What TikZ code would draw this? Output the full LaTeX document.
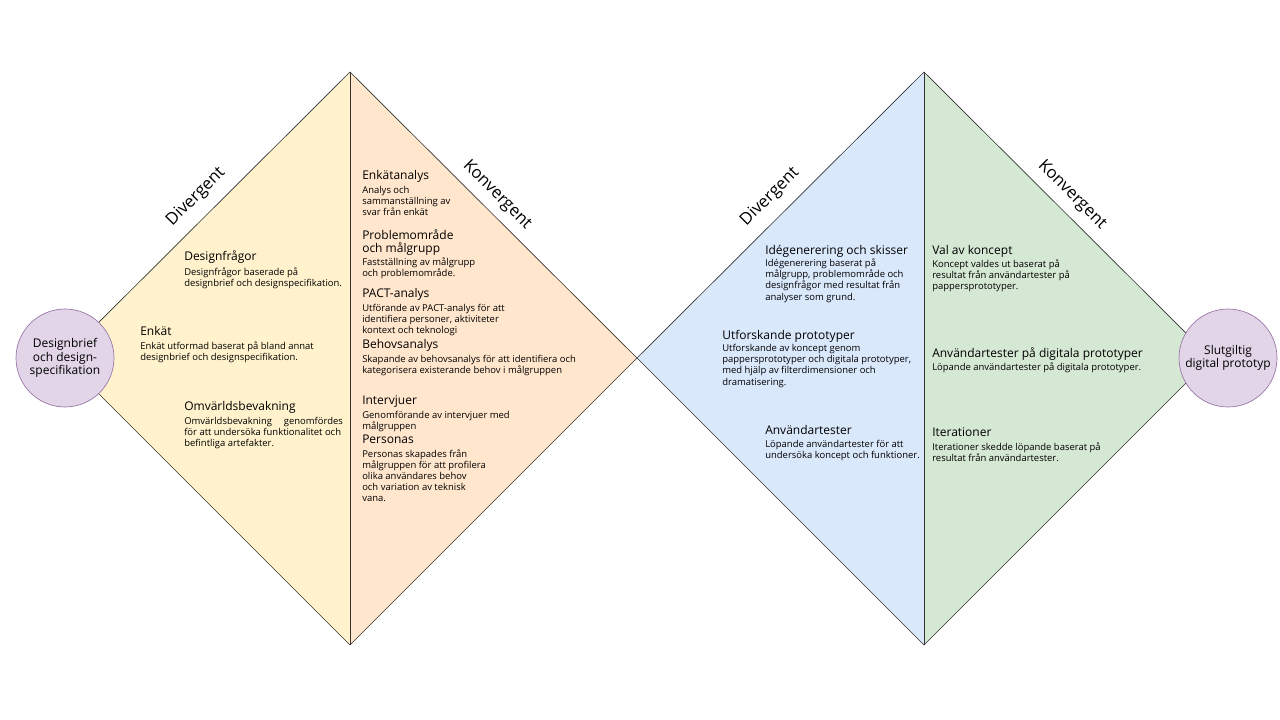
\documentclass[tikz,border=0pt]{standalone}
\usepackage{fontspec}
\setmainfont{Open Sans}
\usetikzlibrary{positioning}

\definecolor{diverga}{HTML}{FFF2CC}
\definecolor{konverga}{HTML}{FFE6CC}
\definecolor{divergb}{HTML}{DAE8FC}
\definecolor{konvergb}{HTML}{D5E8D4}
\definecolor{startfill}{HTML}{E1D5E7}
\definecolor{startline}{HTML}{9673A6}

\newcommand{\hd}[1]{{\fontsize{9}{11}\selectfont #1}}

\tikzset{
	half/.style={draw=black!80, line width=.5pt},
	phase/.style={font=\fontsize{12.5}{14}\selectfont, inner sep=0pt},
	blk/.style={anchor=north west, inner sep=0pt, align=left, font=\fontsize{7.1}{8.3}\selectfont},
	endpoint/.style={circle, draw=startline, fill=startfill, line width=.5pt, minimum size=73.5pt, inner sep=0pt, align=center, font=\fontsize{9}{10}\selectfont}
}

\begin{document}
\begin{tikzpicture}[x=.75pt, y=-.75pt]
	\useasboundingbox (0,0) rectangle (1280,720);

	% corners of the double diamond
	\coordinate (ltip) at (63,358);
	\coordinate (ltop) at (350,72);
	\coordinate (lbot) at (350,645);
	\coordinate (mid)  at (637,358);
	\coordinate (rtop) at (924,72);
	\coordinate (rbot) at (924,645);
	\coordinate (rtip) at (1211,358);

	% first diamond
	\begin{scope}
		\fill[diverga] (ltip) -- (ltop) -- (lbot) -- cycle;
		\fill[konverga] (ltop) -- (mid) -- (lbot) -- cycle;
		\draw[half] (ltip) -- (ltop) -- (mid) -- (lbot) -- cycle;
		\draw[half] (ltop) -- (lbot);
		\node[phase, rotate=45] (div1) at (196,197) {Divergent};
		\node[phase, rotate=-45] (konv1) at (497,195) {Konvergent};
	\end{scope}

	% second diamond
	\begin{scope}
		\fill[divergb] (mid) -- (rtop) -- (rbot) -- cycle;
		\fill[konvergb] (rtop) -- (rtip) -- (rbot) -- cycle;
		\draw[half] (mid) -- (rtop) -- (rtip) -- (rbot) -- cycle;
		\draw[half] (rtop) -- (rbot);
		\node[phase, rotate=45] (div2) at (770,197) {Divergent};
		\node[phase, rotate=-45] (konv2) at (1072,195) {Konvergent};
	\end{scope}

	% start and end
	\node[endpoint] (brief) at (65,358) {Designbrief\\och design-\\specifikation};
	\node[endpoint] (proto) at (1228,358) {Slutgiltig\\digital prototyp};

	% divergent 1
	\node[blk] (designfragor) at (184,250) {\hd{Designfrågor}\\[3pt]
		Designfrågor baserade på\\
		designbrief och designspecifikation.};
	\node[blk] (enkat) at (140,326) {\hd{Enkät}\\[2pt]
		Enkät utformad baserat på bland annat\\
		designbrief och designspecifikation.};
	\node[blk] (omvarld) at (184,401) {\hd{Omvärldsbevakning}\\[2pt]
		\hbox to 119pt{Omvärldsbevakning\hfill genomfördes}\\
		för att undersöka funktionalitet och\\
		befintliga artefakter.};

	% konvergent 1
	\node[blk] (enkatanalys) at (362,170) {\hd{Enkätanalys}\\[2.5pt]
		Analys och\\
		sammanställning av\\
		svar från enkät};
	\node[blk] (problem) at (362,229) {\hd{Problemområde}\\[1.5pt]
		\hd{och målgrupp}\\[2pt]
		Fastställning av målgrupp\\
		och problemområde.};
	\node[blk] (pact) at (362,288) {\hd{PACT-analys}\\[2pt]
		Utförande av PACT-analys för att\\
		identifiera personer, aktiviteter\\
		kontext och teknologi};
	\node[blk] (behov) at (362,339) {\hd{Behovsanalys}\\[2pt]
		Skapande av behovsanalys för att identifiera och\\
		kategorisera existerande behov i målgruppen};
	\node[blk] (intervjuer) at (362,395) {\hd{Intervjuer}\\[2.5pt]
		Genomförande av intervjuer med\\
		målgruppen};
	\node[blk] (personas) at (362,435) {\hd{Personas}\\[2pt]
		Personas skapades från\\
		målgruppen för att profilera\\
		olika användares behov\\
		och variation av teknisk\\
		vana.};

	% divergent 2
	\node[blk] (ide) at (765,245) {\hd{Idégenerering och skisser}\\[1pt]
		Idégenerering baserat på\\
		målgrupp, problemområde och\\
		designfrågor med resultat från\\
		analyser som grund.};
	\node[blk] (utforsk) at (722,330) {\hd{Utforskande prototyper}\\[1pt]
		Utforskande av koncept genom\\
		pappersprototyper och digitala prototyper,\\
		med hjälp av filterdimensioner och\\
		dramatisering.};
	\node[blk] (anvtest) at (765,425) {\hd{Användartester}\\[1.5pt]
		Löpande användartester för att\\
		undersöka koncept och funktioner.};

	% konvergent 2
	\node[blk] (val) at (932,245) {\hd{Val av koncept}\\[1.5pt]
		Koncept valdes ut baserat på\\
		resultat från användartester på\\
		pappersprototyper.};
	\node[blk] (digtest) at (932,347) {\hd{Användartester på digitala prototyper}\\[1.5pt]
		Löpande användartester på digitala prototyper.};
	\node[blk] (iter) at (932,427) {\hd{Iterationer}\\[2.5pt]
		Iterationer skedde löpande baserat på\\
		resultat från användartester.};
\end{tikzpicture}
\end{document}
